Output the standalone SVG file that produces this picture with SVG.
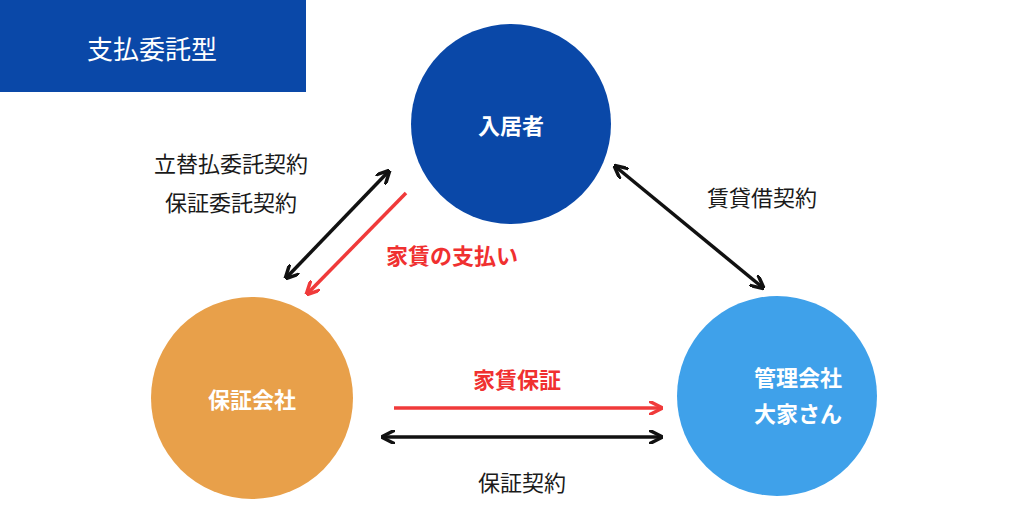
<svg xmlns="http://www.w3.org/2000/svg" width="1024" height="512" viewBox="0 0 1024 512">
<style>
text{font-family:"Noto Sans CJK JP","Noto Sans",sans-serif;text-anchor:middle;dominant-baseline:central}
.w{fill:#fff;font-weight:bold;font-size:22px}
.k{fill:#1a1a1a;font-size:22px}
.r{fill:#f03030;font-weight:bold;font-size:22px}
.bl{stroke:#111;stroke-width:3.5;fill:none}
.rl{stroke:#f03a3a;stroke-width:3.5;fill:none}
</style>
<defs>
<marker id="ab" viewBox="0 0 10 10" refX="8" refY="5" markerWidth="4" markerHeight="4" orient="auto-start-reverse"><path d="M0,0L10,5L0,10" fill="none" stroke="#111" stroke-width="2.5"/></marker>
<marker id="ar" viewBox="0 0 10 10" refX="8" refY="5" markerWidth="4" markerHeight="4" orient="auto"><path d="M0,0L10,5L0,10" fill="none" stroke="#f03a3a" stroke-width="2.5"/></marker>
</defs>
<rect x="0" y="0" width="306" height="92" fill="#0a48a8"/>
<text x="152" y="47" fill="#fff" font-size="26">支払委託型</text>
<g id="tenant"><circle cx="511" cy="124" r="100" fill="#0a48a8"/><text class="w" x="511" y="124">入居者</text></g>
<g id="guarantor"><circle cx="252" cy="398" r="101" fill="#e8a04a"/><text class="w" x="252" y="398">保証会社</text></g>
<g id="owner"><circle cx="777" cy="396" r="100" fill="#3fa1ea"/><text class="w" x="798" y="376">管理会社</text><text class="w" x="798" y="412">大家さん</text></g>
<g id="connectors">
<line class="bl" x1="388" y1="172" x2="287" y2="277" marker-start="url(#ab)" marker-end="url(#ab)"/>
<line class="rl" x1="406" y1="193" x2="308" y2="293" marker-end="url(#ar)"/>
<line class="bl" x1="616" y1="167" x2="762" y2="287" marker-start="url(#ab)" marker-end="url(#ab)"/>
<line class="rl" x1="394" y1="408" x2="660" y2="408" marker-end="url(#ar)"/>
<line class="bl" x1="384" y1="437" x2="660" y2="437" marker-start="url(#ab)" marker-end="url(#ab)"/>
</g>
<text class="k" x="231" y="162">立替払委託契約</text>
<text class="k" x="231" y="201">保証委託契約</text>
<text class="r" x="452" y="254">家賃の支払い</text>
<text class="k" x="762" y="196">賃貸借契約</text>
<text class="r" x="517" y="378">家賃保証</text>
<text class="k" x="522" y="481">保証契約</text>
</svg>
